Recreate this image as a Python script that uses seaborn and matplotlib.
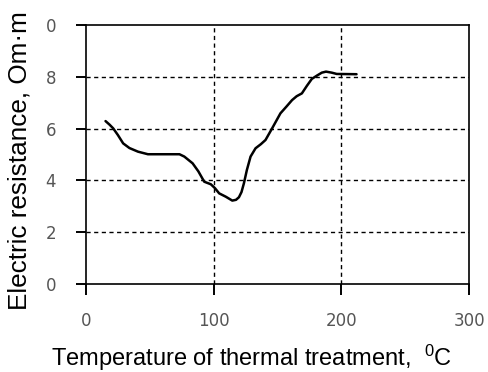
import numpy as np
import pandas as pd
import matplotlib
matplotlib.use("Agg")
import matplotlib.pyplot as plt
from matplotlib.markers import TICKDOWN, TICKLEFT
import seaborn as sns

# Data
temperature = [15.3, 18.5, 21.3, 25.0, 29.1, 34.0, 40.7, 48.5, 60.0, 73.2, 77.0,
               83.5, 88.0, 92.6, 97.8, 101.0, 104.3, 109.5, 114.6, 117.5, 119.8,
               121.8, 123.7, 126.0, 128.9, 132.8, 137.0, 140.6, 145.8, 152.3,
               157.0, 161.4, 165.0, 169.1, 173.0, 176.9, 181.0, 184.7, 188.0,
               192.5, 196.4, 211.9]
resistance = [6.29, 6.15, 6.01, 5.75, 5.43, 5.25, 5.11, 5.01, 5.01, 5.01, 4.92,
              4.66, 4.35, 3.95, 3.85, 3.70, 3.50, 3.37, 3.22, 3.25, 3.35,
              3.55, 3.89, 4.40, 4.92, 5.24, 5.40, 5.56, 6.01, 6.59,
              6.85, 7.10, 7.25, 7.36, 7.65, 7.92, 8.05, 8.16, 8.20,
              8.16, 8.11, 8.10]
x_ticks = [0, 100, 200, 300]
y_ticks = [0, 2, 4, 6, 8, 10]
y_tick_labels = ["0", "2", "4", "6", "8", "0"]

df = pd.DataFrame({"T": temperature, "R": resistance})

sns.set_theme(style="ticks")
plt.rcParams['font.family'] = ['DejaVu Sans']
plt.rcParams['axes.edgecolor'] = 'black'
plt.rcParams['axes.linewidth'] = 1.2

fig = plt.figure(figsize=(4.88, 3.72), dpi=100)
ax = fig.add_axes([86/488, 1 - 284/372, (469-86)/488, (284-25)/372])

sns.lineplot(data=df, x="T", y="R", ax=ax, color="black", linewidth=1.8,
             estimator=None, sort=False)

ax.set_xlim(0, 300)
ax.set_ylim(0, 10)
ax.set_xticks(x_ticks)
ax.set_yticks(y_ticks, labels=y_tick_labels)

for v in [2, 4, 6, 8]:
    ax.axhline(v, color="black", linestyle=(0, (3, 2.5)), linewidth=1.0, zorder=1)
for v in [100, 200]:
    ax.axvline(v, color="black", linestyle=(0, (3, 2.5)), linewidth=1.0, zorder=1)

ax.tick_params(axis="x", which="major", direction="out", length=8, width=1.2,
               color="black", pad=12, labelsize=12, labelcolor="#555555",
               bottom=True, top=False)
ax.tick_params(axis="y", which="major", direction="out", length=7.5, width=1.2,
               color="black", pad=14, labelsize=12, labelcolor="#555555",
               left=True, right=False)

# outward tick marks drawn in data coordinates from the tick lists (safeguard)
ax.plot(x_ticks, [0] * len(x_ticks), linestyle="none", marker=TICKDOWN,
        markersize=8, markeredgewidth=1.2, color="black", clip_on=False, zorder=5)
ax.plot([0] * len(y_ticks), y_ticks, linestyle="none", marker=TICKLEFT,
        markersize=7.5, markeredgewidth=1.2, color="black", clip_on=False, zorder=5)

ax.set_xlabel("")
ax.set_ylabel("")
fig.text(252/488, 1 - 366/372,
         r"Temperature of thermal treatment,  $\mathregular{^0}$C",
         fontsize=17, ha="center", va="baseline", color="black",
         family="Liberation Sans")
fig.text(20/488, 1 - 161/372, "Electric resistance, Om·m", rotation=90,
         fontsize=18.8, ha="center", va="center", color="black",
         family="Liberation Sans")

fig.savefig("out.png", dpi=100)
